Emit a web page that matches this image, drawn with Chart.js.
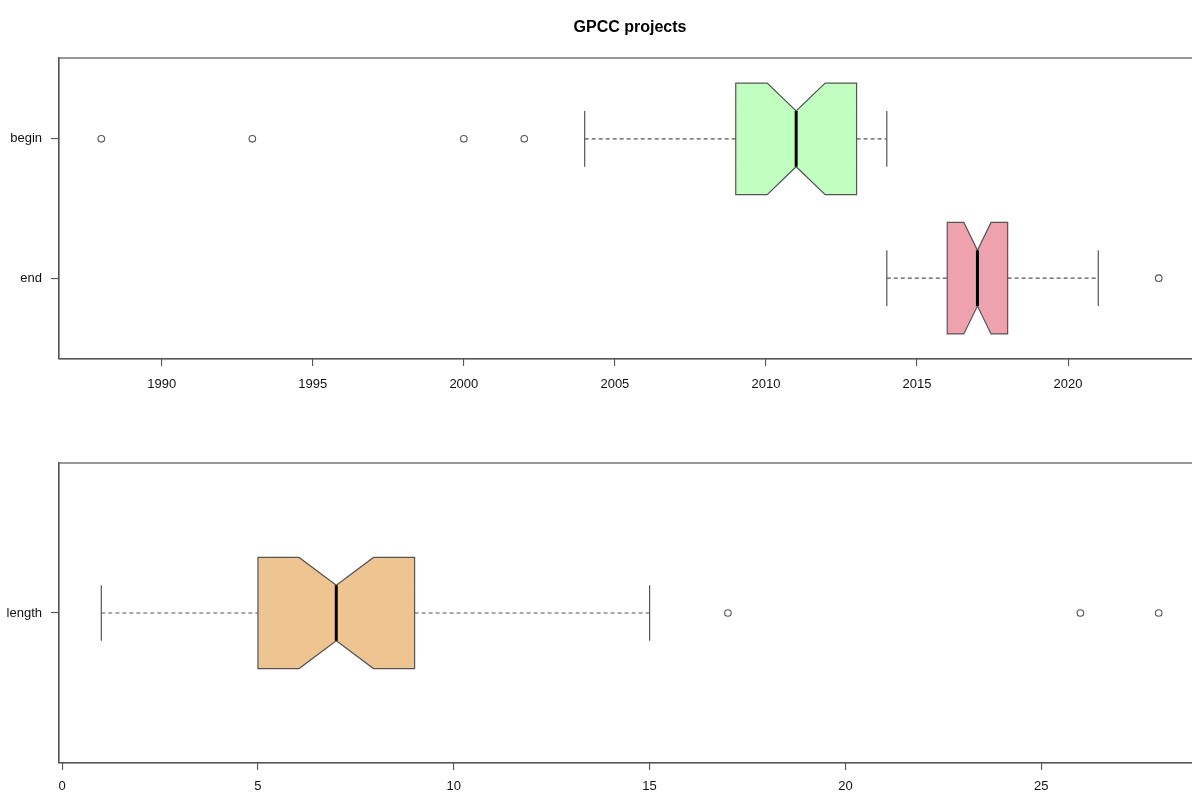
<!DOCTYPE html>
<html>
<head>
<meta charset="utf-8">
<script src="https://cdn.jsdelivr.net/npm/chart.js@4"></script>
<style>
  html, body { margin: 0; padding: 0; background: #fff; overflow: hidden; width: 1192px; height: 794px; }
  #c1 { position: absolute; left: 0; top: 0; }
  #c2 { position: absolute; left: 0; top: 405px; }
</style>
</head>
<body>
<canvas id="c1" width="1210" height="405"></canvas>
<canvas id="c2" width="1210" height="389"></canvas>
<script>
// ---------- data (top panel: project years) ----------
const topCategories = ['begin', 'end'];
const topPositions = [2, 1];
const topWhiskerLow = [2004, 2014];
const topQ1 = [2009, 2016];
const topMedian = [2011, 2017];
const topQ3 = [2013, 2018];
const topWhiskerHigh = [2014, 2021];
const topNotchLow = [2010.04, 2016.55];
const topNotchHigh = [2011.96, 2017.45];
const beginOutliers = [1988, 1993, 2000, 2002];
const endOutliers = [2023];
const topColors = ['#C1FFC1', '#EEA2AD'];
const topTicks = [1990, 1995, 2000, 2005, 2010, 2015, 2020];

// ---------- data (bottom panel: project length) ----------
const bottomCategories = ['length'];
const bottomPositions = [1];
const bottomWhiskerLow = [1];
const bottomQ1 = [5];
const bottomMedian = [7];
const bottomQ3 = [9];
const bottomWhiskerHigh = [15];
const bottomNotchLow = [6.05];
const bottomNotchHigh = [7.95];
const lengthOutliers = [17, 26, 28];
const bottomColors = ['#EEC591'];
const bottomTicks = [0, 5, 10, 15, 20, 25];

const title = 'GPCC projects';
const LINE = '#555555';

Chart.defaults.font.family = "'Liberation Sans', Arial, Helvetica, sans-serif";
Chart.defaults.font.size = 13;
Chart.defaults.color = '#111';

function buildDatasets(pos, lo, q1, q3, hi, outlierGroups, halfW) {
  const ds = [];
  pos.forEach((p, i) => {
    const line = { type: 'scatter', showLine: true, borderColor: LINE, borderWidth: 1.2, pointRadius: 0, fill: false };
    ds.push(Object.assign({}, line, { borderDash: [4, 3], data: [{ x: lo[i], y: p }, { x: q1[i], y: p }] }));
    ds.push(Object.assign({}, line, { borderDash: [4, 3], data: [{ x: q3[i], y: p }, { x: hi[i], y: p }] }));
    ds.push(Object.assign({}, line, { data: [{ x: lo[i], y: p - halfW / 2 }, { x: lo[i], y: p + halfW / 2 }] }));
    ds.push(Object.assign({}, line, { data: [{ x: hi[i], y: p - halfW / 2 }, { x: hi[i], y: p + halfW / 2 }] }));
    ds.push({
      type: 'scatter', showLine: false, data: outlierGroups[i].map(v => ({ x: v, y: p })),
      pointRadius: 3.3, pointBorderColor: LINE, pointBackgroundColor: '#fff', pointBorderWidth: 1.1
    });
  });
  return ds;
}

function boxPlugin(pos, q1, med, q3, nlo, nhi, colors, halfW) {
  return {
    id: 'notchedBoxes',
    afterDatasetsDraw(chart) {
      const xs = chart.scales.x, ys = chart.scales.y, ctx = chart.ctx;
      pos.forEach((p, i) => {
        const X = v => xs.getPixelForValue(v);
        const yT = ys.getPixelForValue(p + halfW), yB = ys.getPixelForValue(p - halfW);
        const yTn = ys.getPixelForValue(p + halfW / 2), yBn = ys.getPixelForValue(p - halfW / 2);
        ctx.save();
        ctx.beginPath();
        ctx.moveTo(X(q1[i]), yT);
        ctx.lineTo(X(nlo[i]), yT);
        ctx.lineTo(X(med[i]), yTn);
        ctx.lineTo(X(nhi[i]), yT);
        ctx.lineTo(X(q3[i]), yT);
        ctx.lineTo(X(q3[i]), yB);
        ctx.lineTo(X(nhi[i]), yB);
        ctx.lineTo(X(med[i]), yBn);
        ctx.lineTo(X(nlo[i]), yB);
        ctx.lineTo(X(q1[i]), yB);
        ctx.closePath();
        ctx.fillStyle = colors[i];
        ctx.fill();
        ctx.strokeStyle = LINE;
        ctx.lineWidth = 1.2;
        ctx.stroke();
        ctx.beginPath();
        ctx.moveTo(X(med[i]), yTn);
        ctx.lineTo(X(med[i]), yBn);
        ctx.strokeStyle = '#000';
        ctx.lineWidth = 3;
        ctx.stroke();
        ctx.restore();
      });
    }
  };
}

const framePlugin = {
  id: 'frame',
  afterDraw(chart) {
    const a = chart.chartArea, ctx = chart.ctx;
    ctx.save();
    ctx.strokeStyle = LINE;
    ctx.lineWidth = 1.2;
    ctx.strokeRect(a.left, a.top, a.right - a.left, a.bottom - a.top);
    ctx.restore();
  }
};

function makeOptions(cfg) {
  return {
    responsive: false,
    animation: false,
    events: [],
    layout: { padding: { top: cfg.padTop, right: 9, bottom: 0, left: 0 } },
    plugins: {
      legend: { display: false },
      tooltip: { enabled: false },
      title: cfg.title ? {
        display: true, text: cfg.title, fullSize: false, color: '#000',
        font: { size: 16, weight: 'bold' }, padding: { top: 17.5, bottom: 21.3 }
      } : { display: false }
    },
    scales: {
      x: {
        type: 'linear', min: cfg.xmin, max: cfg.xmax,
        afterFit: s => { s.height = cfg.xHeight; },
        afterBuildTicks: s => { s.ticks = cfg.xTicks.map(v => ({ value: v })); },
        grid: { drawOnChartArea: false, drawTicks: true, tickLength: 7, color: LINE, lineWidth: 1.1 },
        border: { display: true, color: LINE, width: 1.1 },
        ticks: { padding: cfg.xPad, maxRotation: 0, autoSkip: false, callback: v => String(v) }
      },
      y: {
        type: 'linear', min: cfg.ymin, max: cfg.ymax,
        afterFit: s => { s.width = 59; },
        afterBuildTicks: s => { s.ticks = cfg.yPos.map(v => ({ value: v })); },
        grid: { drawOnChartArea: false, drawTicks: true, tickLength: 8, color: LINE, lineWidth: 1.1 },
        border: { display: true, color: LINE, width: 1.1 },
        ticks: { padding: 9, autoSkip: false, callback: v => cfg.yLabels[cfg.yPos.indexOf(v)] }
      }
    }
  };
}

new Chart(document.getElementById('c1'), {
  type: 'scatter',
  data: { datasets: buildDatasets(topPositions, topWhiskerLow, topQ1, topQ3, topWhiskerHigh, [beginOutliers, endOutliers], 0.4) },
  options: makeOptions({
    title: title, padTop: 0, xmin: 1986.6, xmax: 2024.4, xTicks: topTicks, xHeight: 46, xPad: 11,
    ymin: 0.42, ymax: 2.58, yPos: topPositions, yLabels: topCategories
  }),
  plugins: [boxPlugin(topPositions, topQ1, topMedian, topQ3, topNotchLow, topNotchHigh, topColors, 0.4), framePlugin]
});

new Chart(document.getElementById('c2'), {
  type: 'scatter',
  data: { datasets: buildDatasets(bottomPositions, bottomWhiskerLow, bottomQ1, bottomQ3, bottomWhiskerHigh, [lengthOutliers], 0.2) },
  options: makeOptions({
    title: null, padTop: 58, xmin: -0.08, xmax: 29.08, xTicks: bottomTicks, xHeight: 31, xPad: 9,
    ymin: 0.46, ymax: 1.54, yPos: bottomPositions, yLabels: bottomCategories
  }),
  plugins: [boxPlugin(bottomPositions, bottomQ1, bottomMedian, bottomQ3, bottomNotchLow, bottomNotchHigh, bottomColors, 0.2), framePlugin]
});
</script>
</body>
</html>
